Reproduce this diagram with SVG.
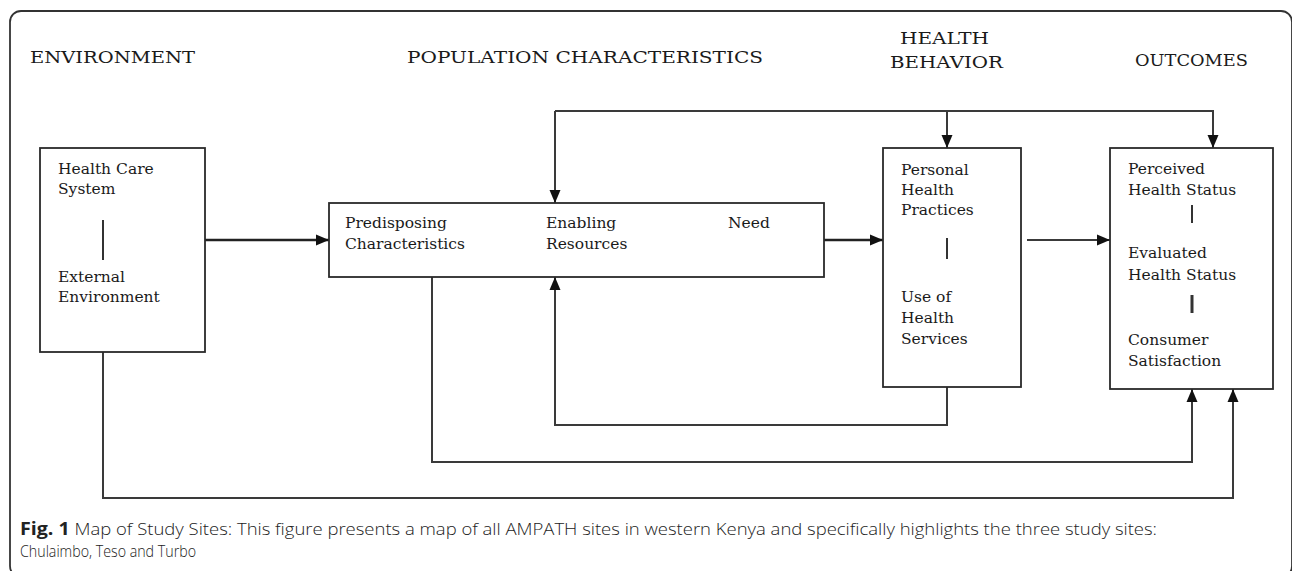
<svg xmlns="http://www.w3.org/2000/svg" width="1292" height="571" viewBox="0 0 1292 571">
<style>
.frame{fill:none;stroke:#333;stroke-width:1.8}
.box{fill:#fff;stroke:#2a2a2a;stroke-width:1.8}
.hdr{font-family:"DejaVu Serif","Liberation Serif",serif;font-size:17px;fill:#1a1a1a}
.t{font-family:"DejaVu Serif","Liberation Serif",serif;font-size:15.5px;fill:#1a1a1a}
.sep{stroke:#333;stroke-width:2}
.c{fill:none;stroke:#3a3a3a;stroke-width:2}
.cb{fill:none;stroke:#222;stroke-width:2.6}
.cap{font-family:"Open Sans","Liberation Sans",sans-serif;font-size:16px;font-weight:300;fill:#222}
</style>
<defs>
<marker id="ah" markerUnits="userSpaceOnUse" markerWidth="14" markerHeight="12" refX="13" refY="6" orient="auto">
<path d="M0,0.5 L13,6 L0,11.5 z" fill="#111"/>
</marker>
</defs>
<rect class="frame" x="10" y="11" width="1282" height="566" rx="11"/>
<g id="headers">
<text class="hdr" x="30" y="63" textLength="165" lengthAdjust="spacingAndGlyphs">ENVIRONMENT</text>
<text class="hdr" x="407" y="63" textLength="356" lengthAdjust="spacingAndGlyphs">POPULATION CHARACTERISTICS</text>
<text class="hdr" x="900" y="44" textLength="89" lengthAdjust="spacingAndGlyphs">HEALTH</text>
<text class="hdr" x="890" y="68" textLength="113" lengthAdjust="spacingAndGlyphs">BEHAVIOR</text>
<text class="hdr" x="1135" y="66" textLength="113" lengthAdjust="spacingAndGlyphs">OUTCOMES</text>
</g>
<g id="connectors">
<path class="cb" d="M205,240 H329" marker-end="url(#ah)"/>
<path class="cb" d="M493,240 H533" marker-end="url(#ah)"/>
<path class="cb" d="M657,240 H698" marker-end="url(#ah)"/>
<path class="cb" d="M824,240 H883" marker-end="url(#ah)"/>
<path class="c" d="M1027,240 H1110" marker-end="url(#ah)"/>
<path class="c" d="M555,111 V203" marker-end="url(#ah)"/>
<path class="c" d="M555,111 H1213 V148" marker-end="url(#ah)"/>
<path class="c" d="M947,111 V148" marker-end="url(#ah)"/>
<path class="c" d="M947,387 V425 H555 V277" marker-end="url(#ah)"/>
<path class="c" d="M432,277 V462 H1192 V389" marker-end="url(#ah)"/>
<path class="c" d="M103,352 V498 H1233 V389" marker-end="url(#ah)"/>
</g>
<g id="environment">
<rect class="box" x="40" y="148" width="165" height="204"/>
<text class="t" x="58" y="174">Health Care</text>
<text class="t" x="58" y="194">System</text>
<line class="sep" x1="103" y1="220" x2="103" y2="260"/>
<text class="t" x="58" y="282">External</text>
<text class="t" x="58" y="302">Environment</text>
</g>
<g id="population">
<rect class="box" x="329" y="203" width="495" height="74"/>
<text class="t" x="345" y="228">Predisposing</text>
<text class="t" x="345" y="249">Characteristics</text>
<text class="t" x="546" y="228">Enabling</text>
<text class="t" x="546" y="249">Resources</text>
<text class="t" x="728" y="228">Need</text>
</g>
<g id="behavior">
<rect class="box" x="883" y="148" width="138" height="239"/>
<text class="t" x="901" y="175">Personal</text>
<text class="t" x="901" y="195">Health</text>
<text class="t" x="901" y="215">Practices</text>
<line class="sep" x1="947" y1="238" x2="947" y2="259"/>
<text class="t" x="901" y="302">Use of</text>
<text class="t" x="901" y="323">Health</text>
<text class="t" x="901" y="344">Services</text>
</g>
<g id="outcomes">
<rect class="box" x="1110" y="148" width="163" height="241"/>
<text class="t" x="1128" y="174">Perceived</text>
<text class="t" x="1128" y="195">Health Status</text>
<line class="sep" x1="1192" y1="205" x2="1192" y2="223"/>
<text class="t" x="1128" y="258">Evaluated</text>
<text class="t" x="1128" y="280">Health Status</text>
<line class="sep" x1="1192" y1="295" x2="1192" y2="313" style="stroke-width:3"/>
<text class="t" x="1128" y="345">Consumer</text>
<text class="t" x="1128" y="366">Satisfaction</text>
</g>
<g id="caption">
<text class="cap" x="20" y="535" textLength="1137" lengthAdjust="spacingAndGlyphs"><tspan font-weight="bold" font-size="17">Fig. 1</tspan> Map of Study Sites: This figure presents a map of all AMPATH sites in western Kenya and specifically highlights the three study sites:</text>
<text class="cap" x="20" y="557" font-size="17" textLength="176" lengthAdjust="spacingAndGlyphs">Chulaimbo, Teso and Turbo</text>
</g>
</svg>
